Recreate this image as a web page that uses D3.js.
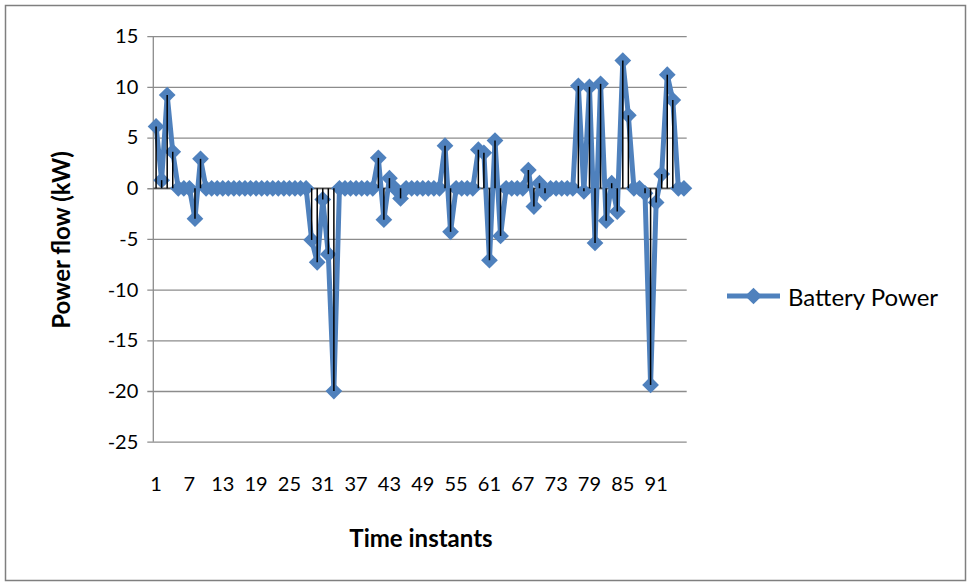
<!DOCTYPE html>
<html>
<head>
<meta charset="utf-8">
<script src="https://cdn.jsdelivr.net/npm/d3@7"></script>
<style>
  html, body { margin: 0; padding: 0; background: #fff; }
  svg { display: block; }
</style>
</head>
<body>
<svg id="chart" width="971" height="585"></svg>
<script>
// Time instants 1..96
const timeInstants = d3.range(1, 97);

// Battery power flow per time instant (kW)
const batteryPower = [
  6.1, 0.8, 9.2, 3.6, 0, 0, 0, -3.0, 2.9, 0,
  0, 0, 0, 0, 0, 0, 0, 0, 0, 0,
  0, 0, 0, 0, 0, 0, 0, 0, -5.1, -7.3,
  -1.1, -6.5, -20, 0, 0, 0, 0, 0, 0, 0,
  3.0, -3.1, 1.0, 0, -1.0, 0, 0, 0, 0, 0,
  0, 0, 4.2, -4.3, 0, 0, 0, 0, 3.8, 3.5,
  -7.1, 4.7, -4.7, 0, 0, 0, 0, 1.8, -1.8, 0.5,
  -0.5, 0, 0, 0, 0, 0, 10.1, -0.3, 10.0, -5.4,
  10.3, -3.2, 0.5, -2.3, 12.6, 7.2, 0, 0, -0.5, -19.4,
  -1.4, 1.4, 11.2, 8.7, 0, 0
];

// Axis tick labels
const xTickLabels = [1, 7, 13, 19, 25, 31, 37, 43, 49, 55, 61, 67, 73, 79, 85, 91];
const yTickValues = [-25, -20, -15, -10, -5, 0, 5, 10, 15];

const seriesName = "Battery Power";
const xTitle = "Time instants";
const yTitle = "Power flow (kW)";

const blue = "#4F81BD";
const gridColor = "#8c8c8c";
const fontFamily = "Lato, 'Open Sans', sans-serif";

const svg = d3.select("#chart");
const plot = { left: 153.3, right: 686.7, top: 36.2, bottom: 441.7 };

// outer chart border
svg.append("rect")
  .attr("x", 5.5).attr("y", 5.5)
  .attr("width", 960).attr("height", 575)
  .attr("fill", "#fff")
  .attr("stroke", "#7f7f7f")
  .attr("stroke-width", 1.5);

const x = d3.scaleBand()
  .domain(timeInstants)
  .range([plot.left, plot.right])
  .paddingInner(0).paddingOuter(0);
const cx = d => x(d) + x.bandwidth() / 2;

const y = d3.scaleLinear()
  .domain([-25, 15])
  .range([plot.bottom, plot.top]);

// value axis with horizontal gridlines (plain hyphen for negatives)
const yAxis = d3.axisLeft(y)
  .tickValues(yTickValues)
  .tickFormat(d => String(d))
  .tickSize(-(plot.right - plot.left))
  .tickSizeOuter(0)
  .tickPadding(15);
const gy = svg.append("g")
  .attr("transform", `translate(${plot.left},0)`)
  .call(yAxis);
gy.select(".domain").remove();
gy.selectAll(".tick line")
  .attr("x1", -6)
  .attr("stroke", gridColor)
  .attr("stroke-width", 1.3);
gy.selectAll(".tick text")
  .attr("font-family", fontFamily)
  .attr("font-size", 20)
  .attr("fill", "#000");

// vertical axis line
svg.append("line")
  .attr("x1", plot.left).attr("x2", plot.left)
  .attr("y1", plot.top).attr("y2", plot.bottom)
  .attr("stroke", gridColor).attr("stroke-width", 1.3);

// category axis line at zero
svg.append("line")
  .attr("x1", plot.left).attr("x2", plot.right)
  .attr("y1", y(0)).attr("y2", y(0))
  .attr("stroke", "#555").attr("stroke-width", 1.3);

// category labels placed low, below the plot area
const xAxis = d3.axisBottom(x)
  .tickValues(xTickLabels)
  .tickSize(0)
  .tickPadding(0);
const gx = svg.append("g")
  .attr("transform", `translate(0,${plot.bottom})`)
  .call(xAxis);
gx.select(".domain").remove();
gx.selectAll(".tick text")
  .attr("font-family", fontFamily)
  .attr("font-size", 20)
  .attr("fill", "#000")
  .attr("dy", null)
  .attr("y", 49);

// series line
const line = d3.line()
  .x((d, i) => cx(timeInstants[i]))
  .y(d => y(d));
svg.append("path")
  .datum(batteryPower)
  .attr("d", line)
  .attr("fill", "none")
  .attr("stroke", blue)
  .attr("stroke-width", 5)
  .attr("stroke-linejoin", "round");

// diamond markers
const diamond = d3.symbol(d3.symbolSquare, 140);
svg.append("g")
  .selectAll("path")
  .data(batteryPower)
  .join("path")
  .attr("d", diamond)
  .attr("transform", (d, i) => `translate(${cx(timeInstants[i])},${y(d)}) rotate(45)`)
  .attr("fill", blue);

// drop lines from each point to the zero axis
svg.append("g")
  .selectAll("line")
  .data(batteryPower)
  .join("line")
  .attr("x1", (d, i) => cx(timeInstants[i]))
  .attr("x2", (d, i) => cx(timeInstants[i]))
  .attr("y1", y(0))
  .attr("y2", d => y(d))
  .attr("stroke", "#000")
  .attr("stroke-width", 1.5);

// axis titles
svg.append("text")
  .attr("transform", `translate(60,240) rotate(-90)`)
  .attr("text-anchor", "middle")
  .attr("dominant-baseline", "central")
  .attr("font-family", fontFamily)
  .attr("font-weight", "bold")
  .attr("font-size", 24)
  .text(yTitle);

svg.append("text")
  .attr("x", 421).attr("y", 537)
  .attr("text-anchor", "middle")
  .attr("dominant-baseline", "central")
  .attr("font-family", fontFamily)
  .attr("font-weight", "bold")
  .attr("font-size", 24)
  .text(xTitle);

// legend
const legend = svg.append("g").attr("transform", "translate(727,296)");
legend.append("line")
  .attr("x1", 0).attr("x2", 53)
  .attr("stroke", blue).attr("stroke-width", 5);
legend.append("path")
  .attr("d", diamond)
  .attr("transform", "translate(26.5,0) rotate(45)")
  .attr("fill", blue);
legend.append("text")
  .attr("x", 61)
  .attr("dominant-baseline", "central")
  .attr("font-family", fontFamily)
  .attr("font-size", 24)
  .text(seriesName);
</script>
</body>
</html>
